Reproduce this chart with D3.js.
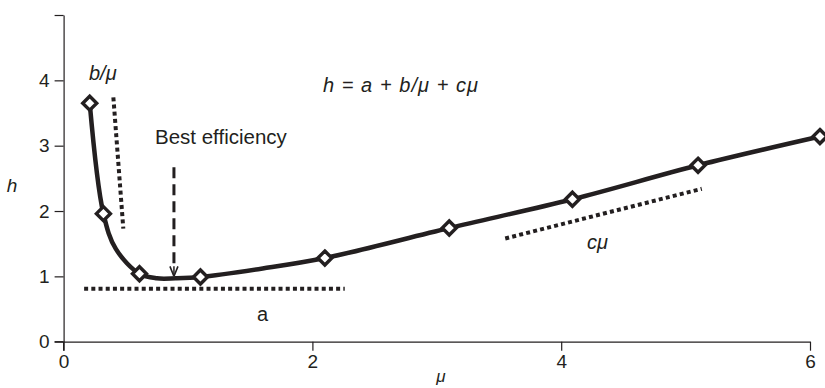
<!DOCTYPE html>
<html>
<head>
<meta charset="utf-8">
<script src="https://cdn.jsdelivr.net/npm/d3@7"></script>
<style>
  body { margin: 0; background: #fff; }
  svg text { font-family: "Liberation Sans", Arial, sans-serif; fill: #231f20; }
</style>
</head>
<body>
<svg id="chart" width="825" height="388"></svg>
<script>
// measured points (markers)
var muPts = [0.21, 0.32, 0.61, 1.1, 2.1, 3.1, 4.09, 5.1, 6.08];
var hPts  = [3.65, 1.96, 1.04, 0.99, 1.28, 1.74, 2.18, 2.70, 3.14];

// curve trace (includes knee / minimum)
var muLine = [0.21, 0.32, 0.42, 0.61, 0.75, 0.9, 1.1, 1.6, 2.1, 3.1, 4.09, 5.1, 6.08];
var hLine  = [3.65, 1.96, 1.42, 1.04, 0.97, 0.97, 0.99, 1.12, 1.28, 1.74, 2.18, 2.70, 3.14];

// component guide lines [x1, y1, x2, y2]
var aLine  = [0.165, 0.81, 2.26, 0.81];
var bLine  = [0.40, 3.74, 0.48, 1.73];
var cLine  = [3.55, 1.58, 5.13, 2.34];
var bestMu = 0.887;
var bestArrow = [2.67, 1.0];

var xTicks = [0, 2, 4, 6];
var yTicks = [0, 1, 2, 3, 4, 5];

var svg = d3.select("#chart");

var x = d3.scaleLinear().domain([0, 6]).range([63.6, 810]);
var y = d3.scaleLinear().domain([0, 5]).range([341.7, 15]);

// axes
var xAxis = d3.axisBottom(x).tickValues(xTicks).tickSize(9).tickSizeOuter(0).tickPadding(4)
    .tickFormat(d3.format("d"));
var yAxis = d3.axisLeft(y).tickValues(yTicks).tickSize(9).tickSizeOuter(0).tickPadding(5)
    .tickFormat(function(d) { return d == 5 ? "" : d; });

var gx = svg.append("g").attr("transform", "translate(0," + y(0) + ")").call(xAxis);
var gy = svg.append("g").attr("transform", "translate(" + x(0) + ",0)").call(yAxis);

[gx, gy].forEach(function(g) {
    g.select(".domain").attr("stroke", "#231f20").attr("stroke-width", 1.2);
    g.selectAll(".tick line").attr("stroke", "#231f20").attr("stroke-width", 1.2);
    g.selectAll(".tick text").style("font-size", "19px")
        .style("font-family", "'Liberation Sans', Arial, sans-serif").attr("fill", "#231f20");
});
// x axis extends slightly left to meet the y tick at 0
gx.append("line").attr("x1", -9).attr("x2", x(0)).attr("y1", 0).attr("y2", 0)
    .attr("transform", "translate(" + x(0) + ",0)").attr("x2", 0)
    .attr("stroke", "#231f20").attr("stroke-width", 1.2);
gy.append("line").attr("x1", 0).attr("x2", 0).attr("y1", y(0)).attr("y2", y(0) + 9)
    .attr("stroke", "#231f20").attr("stroke-width", 1.2);

// axis titles
svg.append("text").attr("x", 12).attr("y", 192).attr("text-anchor", "middle")
    .style("font-size", "19px").style("font-style", "italic").text("h");
svg.append("text").attr("x", 441).attr("y", 382).attr("text-anchor", "middle")
    .style("font-size", "17px").style("font-style", "italic").text("\u03bc");

// guide lines
function guide(arr) {
    svg.append("line")
        .attr("x1", x(arr[0])).attr("y1", y(arr[1]))
        .attr("x2", x(arr[2])).attr("y2", y(arr[3]))
        .attr("stroke", "#231f20").attr("stroke-width", 4)
        .attr("stroke-dasharray", "4,3.2");
}
guide(aLine);
guide(bLine);
guide(cLine);

// best efficiency arrow
svg.append("defs").append("marker")
    .attr("id", "arrow").attr("viewBox", "0 0 10 10")
    .attr("refX", 10).attr("refY", 5)
    .attr("markerWidth", 10).attr("markerHeight", 12)
    .attr("markerUnits", "userSpaceOnUse")
    .attr("orient", "auto")
    .append("path").attr("d", "M0,1 L10,5 L0,9").attr("fill", "none")
    .attr("stroke", "#231f20").attr("stroke-width", 1.6);

svg.append("line")
    .attr("x1", x(bestMu)).attr("y1", y(bestArrow[0]))
    .attr("x2", x(bestMu)).attr("y2", y(bestArrow[1]) - 8)
    .attr("stroke", "#231f20").attr("stroke-width", 3)
    .attr("stroke-dasharray", "11,6");
svg.append("line")
    .attr("x1", x(bestMu)).attr("y1", y(bestArrow[1]) - 10)
    .attr("x2", x(bestMu)).attr("y2", y(bestArrow[1]))
    .attr("stroke", "#231f20").attr("stroke-width", 1.5)
    .attr("marker-end", "url(#arrow)");

// main curve
var lineData = muLine.map(function(m, i) { return [m, hLine[i]]; });
var line = d3.line().x(function(d) { return x(d[0]); }).y(function(d) { return y(d[1]); })
    .curve(d3.curveCatmullRom.alpha(0.5));
svg.append("path").datum(lineData).attr("d", line)
    .attr("fill", "none").attr("stroke", "#231f20").attr("stroke-width", 4.5)
    .attr("stroke-linejoin", "round");

// diamond markers
var ptData = muPts.map(function(m, i) { return [m, hPts[i]]; });
svg.selectAll("path.pt").data(ptData).enter().append("path")
    .attr("class", "pt")
    .attr("d", "M0,-7 L7,0 L0,7 L-7,0 Z")
    .attr("transform", function(d) { return "translate(" + x(d[0]) + "," + y(d[1]) + ")"; })
    .attr("fill", "#fff").attr("stroke", "#231f20").attr("stroke-width", 3.4)
    .attr("stroke-linejoin", "miter");

// annotations
svg.append("text").attr("x", 89).attr("y", 80)
    .style("font-size", "20px").style("font-style", "italic").text("b/\u03bc");
svg.append("text").attr("x", 155).attr("y", 144)
    .style("font-size", "20.5px").text("Best efficiency");
svg.append("text").attr("x", 323).attr("y", 92)
    .style("font-size", "20px").style("font-style", "italic")
    .attr("textLength", 155).text("h = a + b/\u03bc + c\u03bc");
svg.append("text").attr("x", 587).attr("y", 249)
    .style("font-size", "20px").style("font-style", "italic").text("c\u03bc");
svg.append("text").attr("x", 257).attr("y", 321)
    .style("font-size", "20px").text("a");
</script>
</body>
</html>
